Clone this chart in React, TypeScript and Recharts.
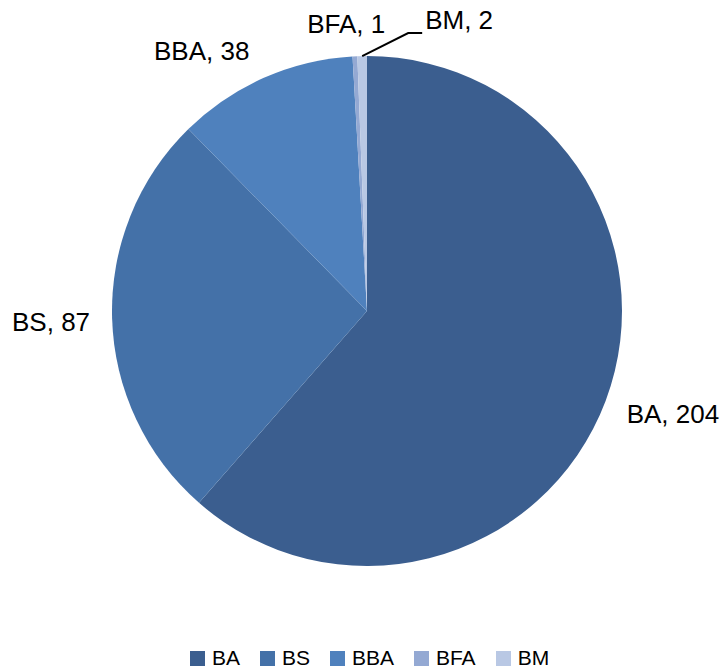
import { PieChart, Pie, Cell, Legend } from 'recharts';

const degrees = ['BA', 'BS', 'BBA', 'BFA', 'BM'];
const counts = [204, 87, 38, 1, 2];
const colors = ['#3B5E8F', '#4471A8', '#4F81BD', '#94A9D3', '#B9C8E4'];

const data = degrees.map((name, i) => ({ name, value: counts[i] }));

const FONT = '"Liberation Sans", Arial, sans-serif';
const RAD = Math.PI / 180;

// hand nudges so the labels sit where Excel put them
const NUDGE: Record<string, [number, number]> = {
    BA: [6, 8],
    BS: [-6, 3],
    BBA: [-8, -12],
    BFA: [-8, -16],
};

const renderLabel = (props: any) => {
    const { cx, cy, midAngle, outerRadius, name, value } = props;
    const text = `${name}, ${value}`;
    if (name === 'BM') {
        // small slice: leader line out to the right
        const sx = cx + outerRadius * Math.cos(-midAngle * RAD);
        const sy = cy + outerRadius * Math.sin(-midAngle * RAD);
        const ex = sx + 46;
        const ey = sy - 23;
        return (
            <g>
                <polyline
                    points={`${sx},${sy} ${ex},${ey} ${ex + 14},${ey}`}
                    fill="none"
                    stroke="#000"
                    strokeWidth={2}
                />
                <text
                    x={ex + 17}
                    y={ey - 13}
                    fill="#000"
                    fontSize={26}
                    fontFamily={FONT}
                    textAnchor="start"
                    dominantBaseline="central"
                >
                    {text}
                </text>
            </g>
        );
    }
    const r = outerRadius + 16;
    const cos = Math.cos(-midAngle * RAD);
    const sin = Math.sin(-midAngle * RAD);
    const [dx, dy] = NUDGE[name] ?? [0, 0];
    const x = cx + r * cos + dx;
    const y = cy + r * sin + dy;
    const anchor = cos > 0.1 ? 'start' : cos < -0.1 ? 'end' : 'middle';
    return (
        <text
            x={x}
            y={y}
            fill="#000"
            fontSize={26}
            fontFamily={FONT}
            textAnchor={anchor}
            dominantBaseline="central"
        >
            {text}
        </text>
    );
};

const LegendContent = () => (
    <div
        style={{
            display: 'flex',
            justifyContent: 'center',
            alignItems: 'center',
            fontFamily: FONT,
            fontSize: 21,
            color: '#000',
            paddingLeft: 12,
        }}
    >
        {degrees.map((d, i) => (
            <div key={d} style={{ display: 'flex', alignItems: 'center', marginRight: i < degrees.length - 1 ? 20 : 0 }}>
                <span style={{ width: 15, height: 15, background: colors[i], display: 'inline-block', marginRight: 7 }} />
                <span style={{ lineHeight: '22px' }}>{d}</span>
            </div>
        ))}
    </div>
);

export default function App() {
    return (
        <div style={{ position: 'absolute', left: 0, top: 0, width: 727, height: 669, background: '#fff' }}>
            <PieChart width={727} height={669} margin={{ top: 0, right: 0, bottom: 0, left: 0 }}>
                <Pie
                    data={data}
                    dataKey="value"
                    nameKey="name"
                    cx={367}
                    cy={311}
                    outerRadius={255}
                    startAngle={90}
                    endAngle={-270}
                    stroke="none"
                    label={renderLabel}
                    labelLine={false}
                    isAnimationActive={false}
                >
                    {data.map((d, i) => (
                        <Cell key={d.name} fill={colors[i]} />
                    ))}
                </Pie>
                <Legend
                    verticalAlign="bottom"
                    content={<LegendContent />}
                    wrapperStyle={{ position: 'absolute', top: 647, left: 0, width: 727 }}
                />
            </PieChart>
        </div>
    );
}
